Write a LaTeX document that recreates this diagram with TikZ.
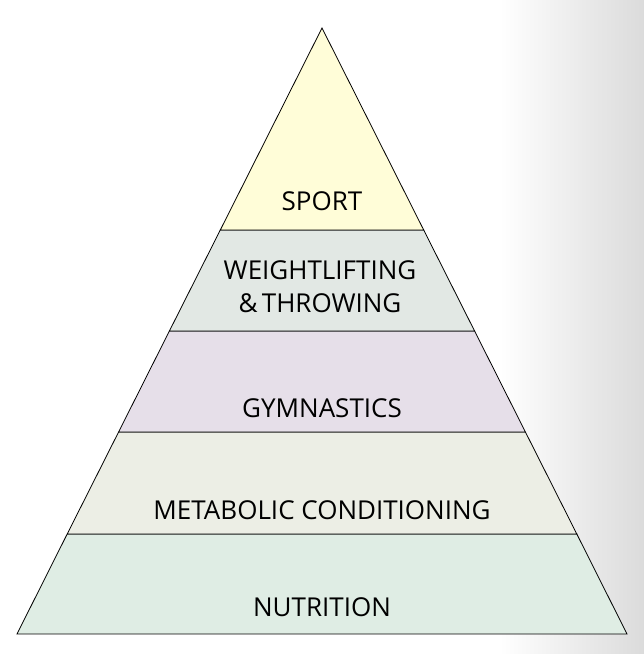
\documentclass[tikz,border=0pt]{standalone}
\usepackage{fontspec}
\setmainfont{Open Sans}
\definecolor{cSport}{RGB}{255,253,216}
\definecolor{cWeight}{RGB}{226,232,228}
\definecolor{cGym}{RGB}{230,223,233}
\definecolor{cMet}{RGB}{236,238,229}
\definecolor{cNut}{RGB}{223,237,228}
\definecolor{cShade}{RGB}{219,219,219}
\tikzset{
  band/.style={draw=black, line width=0.8pt, line join=miter},
  lbl/.style={font=\fontsize{26}{33}\selectfont, align=center, inner sep=0pt, text=black}
}
\begin{document}
\begin{tikzpicture}[x=1pt,y=1pt]
\useasboundingbox (0,0) rectangle (644,654);
\fill[white] (0,0) rectangle (644,654);
\shade[left color=white, right color=cShade] (500,0) rectangle (644,654);
% pyramid coordinates (image y -> 654 - y)
\coordinate (apex) at (322,626);
\coordinate (l1) at (220.3,424); \coordinate (r1) at (423.7,424);
\coordinate (l2) at (169.4,323); \coordinate (r2) at (474.6,323);
\coordinate (l3) at (118.6,222); \coordinate (r3) at (525.4,222);
\coordinate (l4) at (67.2,120);  \coordinate (r4) at (576.8,120);
\coordinate (l5) at (17,20);     \coordinate (r5) at (627,20);
\filldraw[band, fill=cNut] (l4) -- (r4) -- (r5) -- (l5) -- cycle;
\filldraw[band, fill=cMet] (l3) -- (r3) -- (r4) -- (l4) -- cycle;
\filldraw[band, fill=cGym] (l2) -- (r2) -- (r3) -- (l3) -- cycle;
\filldraw[band, fill=cWeight] (l1) -- (r1) -- (r2) -- (l2) -- cycle;
\filldraw[band, fill=cSport] (apex) -- (r1) -- (l1) -- cycle;
\node[lbl] (sport) at (322,453) {SPORT};
\node[lbl] (weight) at (320,367) {WEIGHTLIFTING\\\&\,THROWING};
\node[lbl] (gym) at (322,246) {GYMNASTICS};
\node[lbl] (met) at (322,144) {METABOLIC CONDITIONING};
\node[lbl] (nut) at (322,47) {NUTRITION};
\end{tikzpicture}
\end{document}
